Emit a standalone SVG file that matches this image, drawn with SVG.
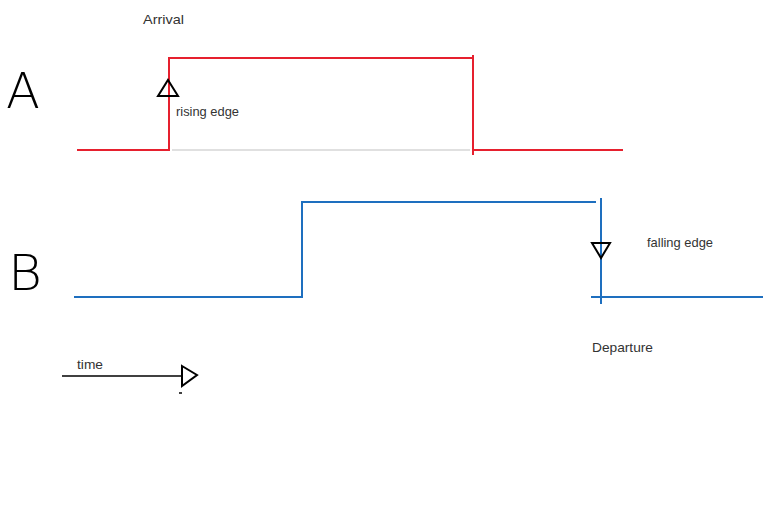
<svg xmlns="http://www.w3.org/2000/svg" width="770" height="514" viewBox="0 0 770 514">
<style>
.red{stroke:#e6202e;stroke-width:2;fill:none}
.blue{stroke:#1e6fbf;stroke-width:2;fill:none}
.ink{stroke:#000;stroke-width:2;fill:none;stroke-linejoin:miter}
.lbl{font-family:"Liberation Sans",Arial,sans-serif;font-size:13px;fill:#333}
.big{font-family:"DejaVu Sans","Liberation Sans",sans-serif;font-size:50px;fill:#000;font-weight:200}
</style>
<rect width="770" height="514" fill="#fff"/>
<g id="labelA"><text class="big" x="6" y="108" textLength="34" lengthAdjust="spacingAndGlyphs">A</text></g>
<g id="labelB"><text class="big" x="8" y="290" textLength="34" lengthAdjust="spacingAndGlyphs">B</text></g>
<g id="signalA">
<line x1="172" y1="150" x2="470" y2="150" stroke="#e0e0e0" stroke-width="2"/>
<polyline class="red" points="77,150 169,150 169,58 473,58"/>
<line class="red" x1="473" y1="55" x2="473" y2="155"/>
<line class="red" x1="473" y1="150" x2="623" y2="150"/>
</g>
<g id="signalB">
<polyline class="blue" points="74,297 302,297 302,202 596,202"/>
<line class="blue" x1="601" y1="198" x2="601" y2="304"/>
<line class="blue" x1="591" y1="297" x2="763" y2="297"/>
</g>
<g id="risingEdge">
<polygon class="ink" points="168,80 178,96 158,96"/>
<text class="lbl" x="176" y="116" textLength="63" lengthAdjust="spacingAndGlyphs">rising edge</text>
</g>
<g id="fallingEdge">
<polygon class="ink" points="592,243 610,243 601,258"/>
<text class="lbl" x="647" y="247" textLength="66" lengthAdjust="spacingAndGlyphs">falling edge</text>
</g>
<g id="arrival"><text class="lbl" x="143" y="24" textLength="41" lengthAdjust="spacingAndGlyphs">Arrival</text></g>
<g id="departure"><text class="lbl" x="592" y="352" textLength="61" lengthAdjust="spacingAndGlyphs">Departure</text></g>
<g id="connectors">
<line x1="62" y1="376" x2="182" y2="376" stroke="#000" stroke-width="1.5"/>
<polygon class="ink" points="182,366 197,375 182,386"/>
<line x1="179" y1="393" x2="182" y2="393" stroke="#000" stroke-width="1.5"/>
<text class="lbl" x="77" y="369" textLength="26" lengthAdjust="spacingAndGlyphs">time</text>
</g>
</svg>
